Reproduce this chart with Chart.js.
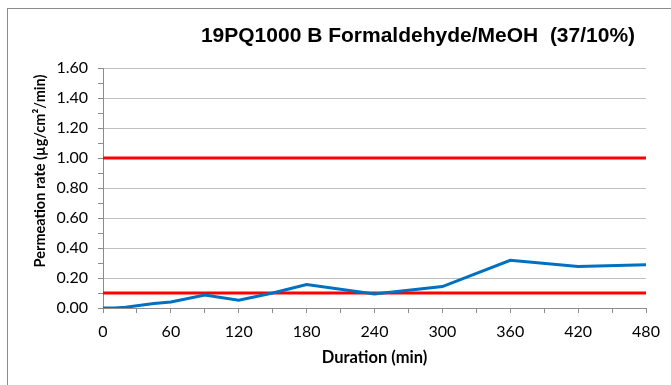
<!DOCTYPE html>
<html><head><meta charset="utf-8">
<script src="https://cdn.jsdelivr.net/npm/chart.js@4"></script>
<style>
html,body{margin:0;padding:0;background:#fff;}
#wrap{position:relative;width:671px;height:385px;overflow:hidden;}
#frame{position:absolute;left:7px;top:8px;width:700px;height:400px;border-left:1px solid #8c8c8c;border-top:1px solid #8c8c8c;}
canvas{position:absolute;left:0;top:0;}
</style></head>
<body><div id="wrap"><div id="frame"></div><canvas id="c" width="671" height="385"></canvas></div>
<script>
const titleText = "19PQ1000 B Formaldehyde/MeOH  (37/10%)";
const xTitle = "Duration (min)";
const yTitle = "Permeation rate (µg/cm²/min)";
const times = [0, 10, 20, 30, 45, 60, 90, 120, 150, 180, 240, 300, 360, 420, 480];
const rates = [0, 0, 0.005, 0.015, 0.03, 0.04, 0.087, 0.052, 0.10, 0.157, 0.094, 0.143, 0.318, 0.277, 0.288];
const limitHigh = 1.0;
const limitLow = 0.1;
const xRange = [0, 480];
const yRange = [0, 1.6];

const fam = "Lato, 'Open Sans', sans-serif";
const tickFont = {family: fam, size: 16};
const textPlugin = {
  id: 'texts',
  afterDraw(chart){
    const c = chart.ctx;
    const a = chart.chartArea;
    c.save();
    c.fillStyle = '#000';
    c.textAlign = 'center';
    c.textBaseline = 'alphabetic';
    c.font = "bold 21px 'Liberation Sans', Arial, sans-serif";
    c.fillText(titleText, 418, 42);
    c.textBaseline = 'middle';
    c.font = "bold 16.5px " + fam;
    c.fillText(xTitle, (a.left + a.right) / 2, 358);
    c.translate(40, 171);
    c.rotate(-Math.PI / 2);
    c.font = "bold 14.5px " + fam;
    c.fillText(yTitle, 0, 0);
    c.restore();
  }
};

new Chart(document.getElementById('c'), {
  type: 'line',
  data: {
    datasets: [
      {data: times.map((t,i)=>({x:t,y:rates[i]})), borderColor:'#0070C0', borderWidth:3, pointRadius:0, tension:0, order:1},
      {data: xRange.map(t=>({x:t,y:limitHigh})), borderColor:'#FF0000', borderWidth:3, pointRadius:0, order:2},
      {data: xRange.map(t=>({x:t,y:limitLow})), borderColor:'#FF0000', borderWidth:3, pointRadius:0, order:2}
    ]
  },
  options: {
    responsive:false, animation:false,
    layout:{padding:{left:0, right:25, top:68, bottom:0}},
    plugins:{legend:{display:false}, tooltip:{enabled:false}},
    scales:{
      x:{type:'linear', min:xRange[0], max:xRange[1],
        afterFit:s=>{s.height = 77;},
        ticks:{stepSize:30, autoSkip:false, maxRotation:0, color:'#000', font:tickFont, padding:9,
          callback:v=> (v%60===0)? String(v) : ''},
        grid:{drawOnChartArea:false, color:'#8c8c8c', tickLength:5},
        border:{color:'#8c8c8c', width:1}
      },
      y:{min:yRange[0], max:yRange[1],
        afterFit:s=>{s.width = 103;},
        ticks:{stepSize:0.1, autoSkip:false, color:'#000', font:tickFont, padding:10,
          callback:v=> (Math.round(v*10)%2===0)? v.toFixed(2) : ''},
        grid:{color:ctx=> (ctx.tick && Math.round(ctx.tick.value*10)%2===0 && ctx.tick.value>0)? '#c0c0c0':'rgba(0,0,0,0)', tickColor:'#8c8c8c', tickLength:5},
        border:{color:'#8c8c8c', width:1}
      }
    }
  },
  plugins:[textPlugin]
});
</script></body></html>
